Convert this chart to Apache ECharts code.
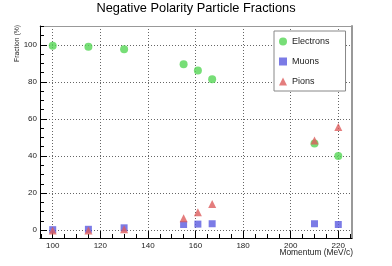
<!DOCTYPE html>
<html><head><meta charset="utf-8">
<script src="https://cdn.jsdelivr.net/npm/echarts@6/dist/echarts.min.js"></script>
<style>html,body{margin:0;padding:0;background:#fff}#c{width:392px;height:266px}</style>
</head><body><div id="c"></div>
<script>
const momentum = [100, 115, 130, 155, 161, 167, 210, 220];
const electrons = [99.6, 99.0, 97.6, 89.6, 86.2, 81.5, 46.8, 40.0];
const muons = [0.2, 0.4, 1.2, 3.0, 3.2, 3.4, 3.4, 3.0];
const pions = [-0.2, -0.3, 0.4, 6.3, 9.6, 14.0, 48.3, 55.6];
const seriesNames = ['Electrons', 'Muons', 'Pions'];
const xTitle = 'Momentum (MeV/c)';
const yTitle = 'Fraction (%)';
const xMajor = [100, 120, 140, 160, 180, 200, 220];
const xMinor = [95, 105, 110, 115, 125, 130, 135, 145, 150, 155, 165, 170, 175, 185, 190, 195, 205, 210, 215, 225];
const yMajor = [0, 20, 40, 60, 80, 100];
const yMinor = [5, 10, 15, 25, 30, 35, 45, 50, 55, 65, 70, 75, 85, 90, 95, 105, 110];

const FONT = 'Liberation Sans, Arial, sans-serif';
const X_MIN = 94.66, X_MAX = 225.76, Y_MIN = -4.3, Y_MAX = 110.2;
const pairs = vals => momentum.map((m, i) => [m, vals[i]]);

const chart = echarts.init(document.getElementById('c'), null, {renderer: 'canvas'});
const grid = {left: 40, right: 40, top: 26, bottom: 28, containLabel: false, outerBoundsMode: 'none'};
const gridLine = {show: true, lineStyle: {color: '#666', width: 1, type: [1, 2]}};

chart.setOption({
  animation: false,
  backgroundColor: '#fff',
  textStyle: {fontFamily: FONT},
  title: {
    text: 'Negative Polarity Particle Fractions',
    left: 'center', top: -3,
    textStyle: {fontFamily: FONT, fontSize: 12.8, fontWeight: 'normal', color: '#000'}
  },
  graphic: [
    {type: 'text', x: 353, y: 252.5, silent: true,
     style: {text: xTitle, fill: '#222', font: '8.4px ' + FONT, textAlign: 'right', textVerticalAlign: 'middle'}},
    {type: 'text', x: 17, y: 25, rotation: Math.PI / 2, silent: true,
     style: {text: yTitle, fill: '#222', font: '6.8px ' + FONT, textAlign: 'right', textVerticalAlign: 'middle'}}
  ],
  legend: {
    orient: 'vertical', left: 274, top: 31,
    padding: [6, 16, 5, 5], itemGap: 11, itemWidth: 8, itemHeight: 8, itemTextGap: 5,
    backgroundColor: '#fff', borderColor: '#888', borderWidth: 1, borderRadius: 0,
    textStyle: {fontFamily: FONT, fontSize: 9, color: '#222'},
    data: seriesNames
  },
  grid: grid,
  xAxis: [
    {
      type: 'value', min: X_MIN, max: X_MAX, position: 'bottom',
      axisLine: {show: true, onZero: false, lineStyle: {color: '#000', width: 1}},
      axisTick: {show: true, inside: true, length: 7, customValues: xMajor, lineStyle: {color: '#000'}},
      axisLabel: {show: true, customValues: xMajor, margin: 4, fontFamily: FONT, fontSize: 8, color: '#222'},
      splitLine: gridLine
    },
    {
      type: 'value', min: X_MIN, max: X_MAX, position: 'bottom',
      axisLine: {show: false, onZero: false},
      axisTick: {show: true, inside: true, length: 4, customValues: xMinor, lineStyle: {color: '#000'}},
      axisLabel: {show: false}, splitLine: {show: false}
    },
    {
      type: 'value', min: X_MIN, max: X_MAX, position: 'top',
      axisLine: {show: true, onZero: false, lineStyle: {color: '#999', width: 1}},
      axisTick: {show: false}, axisLabel: {show: false}, splitLine: {show: false}
    }
  ],
  yAxis: [
    {
      type: 'value', min: Y_MIN, max: Y_MAX, position: 'left',
      axisLine: {show: true, onZero: false, lineStyle: {color: '#000', width: 1}},
      axisTick: {show: true, inside: true, length: 7, customValues: yMajor, lineStyle: {color: '#000'}},
      axisLabel: {show: true, customValues: yMajor, margin: 3, fontFamily: FONT, fontSize: 8, color: '#222'},
      splitLine: gridLine
    },
    {
      type: 'value', min: Y_MIN, max: Y_MAX, position: 'left',
      axisLine: {show: false, onZero: false},
      axisTick: {show: true, inside: true, length: 4, customValues: yMinor, lineStyle: {color: '#000'}},
      axisLabel: {show: false}, splitLine: {show: false}
    },
    {
      type: 'value', min: Y_MIN, max: Y_MAX, position: 'right',
      axisLine: {show: true, onZero: false, lineStyle: {color: '#999', width: 2}},
      axisTick: {show: false}, axisLabel: {show: false}, splitLine: {show: false}
    }
  ],
  series: [
    {name: seriesNames[0], type: 'scatter', symbol: 'circle', symbolSize: 8,
     itemStyle: {color: '#55d655'}, data: pairs(electrons)},
    {name: seriesNames[1], type: 'scatter', symbol: 'rect', symbolSize: 7,
     itemStyle: {color: '#5a5ae0'}, data: pairs(muons)},
    {name: seriesNames[2], type: 'scatter', symbol: 'triangle', symbolSize: 8,
     itemStyle: {color: '#dd5c5c'}, data: pairs(pions)}
  ]
});
</script></body></html>
